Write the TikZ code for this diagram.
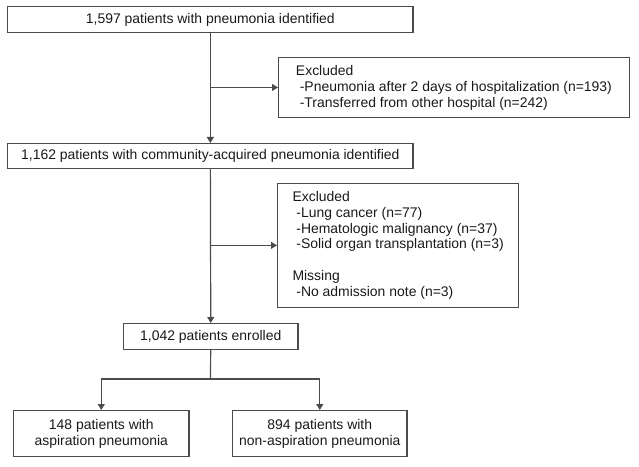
\documentclass[tikz,border=0pt]{standalone}
\usepackage{fontspec}
\setmainfont{Liberation Sans}
\usetikzlibrary{arrows.meta}
\definecolor{framegray}{RGB}{75,75,75}
\definecolor{inkgray}{RGB}{25,25,25}
\begin{document}
\begin{tikzpicture}[x=1bp,y=-1bp,
		font=\fontsize{14}{16}\selectfont,
		every node/.style={text=inkgray},
		box/.style={draw=framegray,line width=1.2bp,anchor=north west,inner sep=0pt,align=center},
		note/.style={box,align=left},
		arr/.style={draw=framegray,line width=1.2bp,-{Triangle[length=6bp,width=7bp]}}]
	\useasboundingbox (0,0) rectangle (639,467);

	\node[box,minimum width=407,minimum height=26] (found) at (7,6) {1,597 patients with pneumonia identified};
	\node[note,minimum width=352,minimum height=60] (excla) at (278,57)
		{Excluded\\\ -Pneumonia after 2 days of hospitalization (n=193)\\\ -Transferred from other hospital (n=242)};
	\node[box,minimum width=407,minimum height=25] (cap) at (7,143) {1,162 patients with community-acquired pneumonia identified};
	\node[note,minimum width=242,minimum height=124] (exclb) at (277,183)
		{Excluded\\\ -Lung cancer (n=77)\\\ -Hematologic malignancy (n=37)\\\ -Solid organ transplantation (n=3)\\\mbox{}\\Missing\\\ -No admission note (n=3)};
	\node[box,minimum width=175,minimum height=26] (enrolled) at (123,323) {1,042 patients enrolled};
	\node[box,minimum width=176,minimum height=46] (asp) at (13,410) {148 patients with\\aspiration pneumonia};
	\node[box,minimum width=175,minimum height=46] (nonasp) at (232,410) {894 patients with\\non-aspiration pneumonia};
	\coordinate (split) at (210.5,379);

	\draw[arr] (found) -- (cap);
	\draw[arr] (found.south |- excla.west) -- (excla.west);
	\draw[arr] (cap) -- (enrolled);
	\draw[arr] (cap.south |- exclb.west) -- (exclb.west);
	\draw[framegray,line width=1.2bp] (enrolled) -- (split);
	\draw[arr] (split) -| (asp.north);
	\draw[arr] (split) -| (nonasp.north);
\end{tikzpicture}
\end{document}
